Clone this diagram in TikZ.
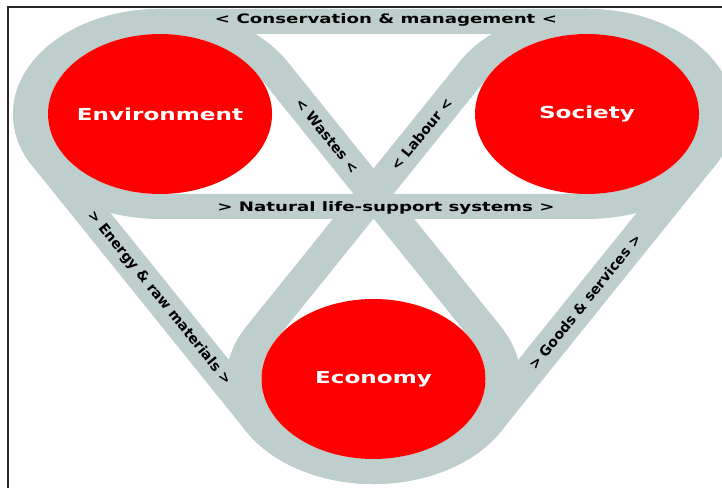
\documentclass[tikz,border=0pt]{standalone}
\usepackage{fontspec}
\setmainfont{DejaVu Sans}
\usetikzlibrary{calc}
\definecolor{beltgray}{HTML}{BDCECC}
\definecolor{discred}{HTML}{FF0000}
\def\Rout{105}
\def\Rin{80}
% belt (stadium ring) around two centres #1,#2; #3 = normal angle of the first straight side
\newcommand\beltring[3]{%
  \fill[beltgray, even odd rule]
    ($(#1)+(#3:\Rout)$) -- ($(#2)+(#3:\Rout)$)
      arc[start angle=#3, delta angle=-180, radius=\Rout]
      -- ($(#1)+(#3+180:\Rout)$)
      arc[start angle=#3+180, delta angle=-180, radius=\Rout] -- cycle
    ($(#1)+(#3:\Rin)$) -- ($(#2)+(#3:\Rin)$)
      arc[start angle=#3, delta angle=-180, radius=\Rin]
      -- ($(#1)+(#3+180:\Rin)$)
      arc[start angle=#3+180, delta angle=-180, radius=\Rin] -- cycle;}
\begin{document}
\begin{tikzpicture}[x=1pt,y=1pt,
  lab/.style={font=\bfseries\fontsize{13}{13}\selectfont, text=black, inner sep=0pt, xscale=1.4},
  dlab/.style={font=\bfseries\fontsize{14}{14}\selectfont, text=black, inner sep=0pt},
  disc/.style={circle, fill=discred, minimum size=160pt, inner sep=0pt, text=white,
    font=\bfseries\fontsize{16.5}{16.5}\selectfont, xscale=1.4}]
\useasboundingbox (0,0) rectangle (722,487);
\draw[line width=2pt, black!85] (8,-5) -- (8,480) -- (730,480);
\begin{scope}[xscale=1.4]
  \coordinate (E) at (114.3,373);
  \coordinate (S) at (419.3,373);
  \coordinate (C) at (266.8,108);
  \coordinate (lcons) at (275.7,467);
  \coordinate (lnat) at (275.7,279);
  \coordinate (lwaste) at (233.5,351);
  \coordinate (llab) at (301,353);
  \coordinate (lenergy) at (113.7,189);
  \coordinate (lgoods) at (417.6,185);
  \beltring{E}{S}{90}
  \beltring{E}{C}{30}
  \beltring{S}{C}{-30}
\end{scope}
\node[disc] (env) at (E) {Environment};
\node[disc] (soc) at (S) {Society};
\node[disc] (eco) at (C) {Economy};
\node[lab] (tcons) at (lcons) {< Conservation \& management <};
\node[lab] (tnat) at (lnat) {> Natural life-support systems >};
\node[dlab, rotate=-51] (twaste) at (lwaste) {< Wastes <};
\node[dlab, rotate=51] (tlab) at (llab) {< Labour <};
\node[dlab, rotate=-51] (tenergy) at (lenergy) {> Energy \& raw materials >};
\node[dlab, rotate=51] (tgoods) at (lgoods) {> Goods \& services >};
\end{tikzpicture}
\end{document}
